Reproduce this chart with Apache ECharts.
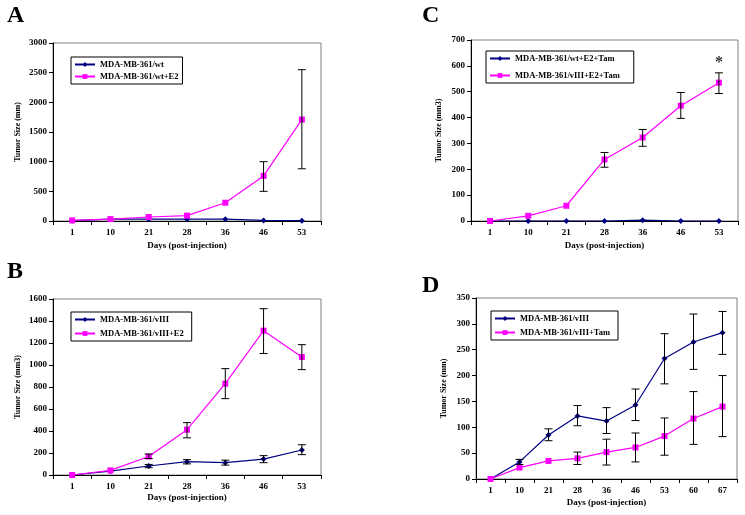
<!DOCTYPE html>
<html><head><meta charset="utf-8">
<script src="https://cdn.jsdelivr.net/npm/echarts@6/dist/echarts.min.js"></script>
<style>html,body{margin:0;padding:0;background:#fff}#c{width:745px;height:515px}</style>
</head><body><div id="c"></div>
<script>
// ---------- data ----------
var daysA = ['1','10','21','28','36','46','53'];
var daysD = ['1','10','21','28','36','46','53','60','67'];

var aWt   = [5, 30, 30, 30, 30, 10, 5];
var aWtE2 = [10, 32, 67, 90, 308, 760, 1710];
var aWtE2Err = [[5, 500, 1000], [6, 880, 2550]];

var bV    = [0, 35, 82, 121, 112, 145, 227];
var bVE2  = [0, 42, 168, 412, 830, 1312, 1073];
var bVErr   = [[2, 66, 96], [3, 101, 140], [4, 90, 135], [5, 112, 176], [6, 185, 275]];
var bVE2Err = [[2, 150, 190], [3, 338, 476], [4, 694, 967], [5, 1104, 1512], [6, 958, 1185]];

var cWtTam  = [0, 0, 0, 0, 3, 0, 0];
var cVTam   = [0, 20, 59, 238, 323, 446, 535];
var cVTamErr = [[3, 208, 265], [4, 289, 354], [5, 397, 497], [6, 493, 573]];
var cStar = [[6, 610]];

var dV    = [0, 33, 85, 122, 112, 143, 233, 265, 283];
var dVTam = [0, 22, 35, 40, 52, 61, 83, 117, 140];
var dVErr    = [[1, 28, 38], [2, 74, 97], [3, 103, 142], [4, 88, 138], [5, 113, 174], [6, 184, 281], [7, 212, 319], [8, 241, 324]];
var dVTamErr = [[3, 28, 52], [4, 27, 77], [5, 33, 89], [6, 46, 118], [7, 67, 169], [8, 82, 200]];

// ---------- style helpers ----------
var NAVY = '#000080', MAG = '#ff00ff';
var FONT = 'Liberation Serif';

function errSeries(idx, data) {
  return {
    type: 'custom', xAxisIndex: idx, yAxisIndex: idx, data: data, z: 5, silent: true,
    renderItem: function (params, api) {
      var x = api.value(0);
      var lo = api.coord([x, api.value(1)]);
      var hi = api.coord([x, api.value(2)]);
      var w = 4, st = { stroke: '#000', lineWidth: 1 };
      return { type: 'group', children: [
        { type: 'line', shape: { x1: lo[0], y1: lo[1], x2: hi[0], y2: hi[1] }, style: st },
        { type: 'line', shape: { x1: lo[0] - w, y1: lo[1], x2: lo[0] + w, y2: lo[1] }, style: st },
        { type: 'line', shape: { x1: hi[0] - w, y1: hi[1], x2: hi[0] + w, y2: hi[1] }, style: st }
      ]};
    }
  };
}
function lineSeries(idx, name, data, color, symbol, size) {
  return {
    type: 'line', name: name, xAxisIndex: idx, yAxisIndex: idx, data: data,
    symbol: symbol, symbolSize: size, showSymbol: true,
    lineStyle: { color: color, width: 1.2 }, itemStyle: { color: color }, z: 3
  };
}
function xAx(idx, cats, nameGap) {
  return {
    type: 'category', gridIndex: idx, data: cats, boundaryGap: true,
    name: 'Days (post-injection)', nameLocation: 'middle', nameGap: nameGap,
    nameTextStyle: { fontFamily: FONT, fontWeight: 'bold', fontSize: 9, color: '#000' },
    axisLine: { lineStyle: { color: '#000', width: 1 } },
    axisTick: { show: true, length: 4, lineStyle: { color: '#000' } },
    axisLabel: { fontFamily: FONT, fontWeight: 'bold', fontSize: 9, color: '#000', margin: 7 },
    splitLine: { show: false }
  };
}
function yAx(idx, max, interval, name, nameGap) {
  return {
    type: 'value', gridIndex: idx, min: 0, max: max, interval: interval,
    name: name, nameLocation: 'middle', nameGap: nameGap,
    nameTextStyle: { fontFamily: FONT, fontWeight: 'bold', fontSize: 8, color: '#000' },
    axisLine: { show: true, lineStyle: { color: '#000', width: 1 } },
    axisTick: { show: true, length: 4, lineStyle: { color: '#000' } },
    axisLabel: { fontFamily: FONT, fontWeight: 'bold', fontSize: 9, color: '#000', margin: 6,
                 formatter: function (v) { return String(v); } },
    splitLine: { show: false }
  };
}
function legend(names, left, top, gap, padR) {
  return {
    data: names, left: left, top: top, orient: 'vertical',
    borderColor: '#000', borderWidth: 1, borderRadius: 0, padding: [3, padR, 3, 3],
    itemWidth: 20, itemHeight: 6, itemGap: gap, selectedMode: false,
    textStyle: { fontFamily: FONT, fontWeight: 'bold', fontSize: 8.5, color: '#000' }
  };
}
function letter(t, x, y) {
  return { type: 'text', left: x, top: y, style: { text: t, fontFamily: FONT, fontWeight: 'bold', fontSize: 24, fill: '#000' } };
}

var chart = echarts.init(document.getElementById('c'));
chart.setOption({
  animation: false,
  backgroundColor: '#fff',
  graphic: [letter('A', 7, 4), letter('C', 422, 4), letter('B', 7, 260), letter('D', 422, 274)],
  grid: [
    { left: 53, top: 43, width: 268, height: 178, show: true, borderColor: '#808080', borderWidth: 1 },
    { left: 53, top: 299, width: 268, height: 176, show: true, borderColor: '#808080', borderWidth: 1 },
    { left: 471, top: 40, width: 267, height: 181, show: true, borderColor: '#808080', borderWidth: 1 },
    { left: 476, top: 298, width: 261, height: 181, show: true, borderColor: '#808080', borderWidth: 1 }
  ],
  xAxis: [xAx(0, daysA, 20), xAx(1, daysA, 18), xAx(2, daysA, 20), xAx(3, daysD, 19)],
  yAxis: [
    yAx(0, 3000, 500, 'Tumor Size (mm)', 31),
    yAx(1, 1600, 200, 'Tumor Size (mm3)', 31),
    yAx(2, 700, 100, 'Tumor Size (mm3)', 28),
    yAx(3, 350, 50, 'Tumor Size (mm)', 28)
  ],
  legend: [
    legend(['MDA-MB-361/wt', 'MDA-MB-361/wt+E2'], 71, 57, 3, 4),
    legend(['MDA-MB-361/vIII', 'MDA-MB-361/vIII+E2'], 71, 312, 5, 8),
    legend(['MDA-MB-361/wt+E2+Tam', 'MDA-MB-361/vIII+E2+Tam'], 486, 51, 8, 14),
    legend(['MDA-MB-361/vIII ', 'MDA-MB-361/vIII+Tam'], 491, 311, 5, 8)
  ],
  series: [
    lineSeries(0, 'MDA-MB-361/wt', aWt, NAVY, 'diamond', 6),
    lineSeries(0, 'MDA-MB-361/wt+E2', aWtE2, MAG, 'rect', 6),
    errSeries(0, aWtE2Err),

    lineSeries(1, 'MDA-MB-361/vIII', bV, NAVY, 'diamond', 6),
    lineSeries(1, 'MDA-MB-361/vIII+E2', bVE2, MAG, 'rect', 6),
    errSeries(1, bVErr), errSeries(1, bVE2Err),

    lineSeries(2, 'MDA-MB-361/wt+E2+Tam', cWtTam, NAVY, 'diamond', 6),
    lineSeries(2, 'MDA-MB-361/vIII+E2+Tam', cVTam, MAG, 'rect', 6),
    errSeries(2, cVTamErr),
    { type: 'scatter', xAxisIndex: 2, yAxisIndex: 2, data: cStar, symbolSize: 0, silent: true,
      label: { show: true, position: 'inside', formatter: '*', fontFamily: FONT, fontWeight: 'bold', fontSize: 16, color: '#000' } },

    lineSeries(3, 'MDA-MB-361/vIII ', dV, NAVY, 'diamond', 6),
    lineSeries(3, 'MDA-MB-361/vIII+Tam', dVTam, MAG, 'rect', 6),
    errSeries(3, dVErr), errSeries(3, dVTamErr)
  ]
});
</script>
</body></html>
